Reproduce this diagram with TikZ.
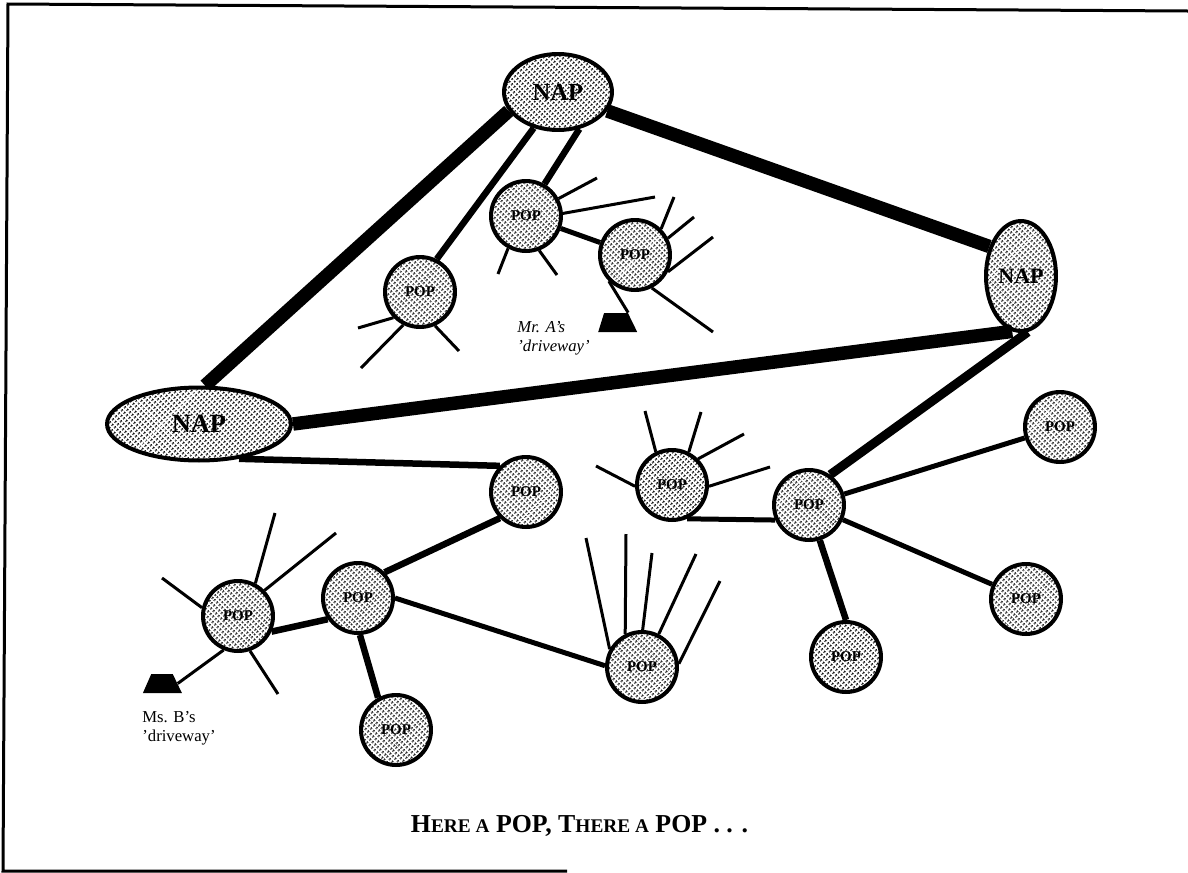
\documentclass[tikz,border=0pt]{standalone}
\usepackage{fontspec}
\setmainfont{Liberation Serif}
\usetikzlibrary{shapes.geometric}
\usetikzlibrary{patterns.meta}
\newcommand{\smallcap}[1]{{\fontsize{11}{12}\selectfont #1}}

\begin{document}
\begin{tikzpicture}[
            x=0.02cm,
            y=-0.02cm,
            nap/.style={
                ellipse,
                draw=black,
                line width=0.08cm,
                fill=white,
                pattern={Dots[radius=0.028cm, distance=0.072cm, angle=45]},
                inner sep=0pt,
                font=\bfseries
            },
            pop/.style={
                circle,
                draw=black,
                line width=0.08cm,
                fill=white,
                pattern={Dots[radius=0.028cm, distance=0.072cm, angle=45]},
                inner sep=0pt,
                minimum size=1.4cm,
                font=\fontsize{8.5}{9}\selectfont\bfseries
            },
            drive/.style={
                trapezium,
                fill=black,
                inner sep=0pt,
                trapezium stretches=true,
                minimum width=0.78cm,
                minimum height=0.38cm,
                font=\tiny
            },
            backbone/.style={line width=0.27cm},
            trunk/.style={line width=0.13cm},
            link/.style={line width=0.1cm},
            stub/.style={line width=0.06cm}
        ]
        \useasboundingbox (0,0) rectangle (1188,873);
        \draw[line width=0.06cm] (1188,11) -- (8,4) -- (3,871) -- (567,871);

        % exchange points
        \node[nap, minimum width=2.16cm, minimum height=1.52cm, font=\fontsize{14}{14}\selectfont\bfseries] (naptop) at (558,92) {NAP};
        \node[nap, minimum width=1.4cm, minimum height=2.2cm, font=\fontsize{12.5}{13}\selectfont\bfseries] (napright) at (1021,276) {NAP};
        \node[nap, minimum width=3.68cm, minimum height=1.46cm, font=\fontsize{15}{15}\selectfont\bfseries] (napleft) at (199,424) {NAP};

        % pops
        \node[pop] (popa) at (420,292) {POP};
        \node[pop] (popb) at (526,216) {POP};
        \node[pop] (popc) at (635,255) {POP};
        \node[pop] (popd) at (526,492) {POP};
        \node[pop] (pope) at (672,485) {POP};
        \node[pop] (popf) at (809,505) {POP};
        \node[pop] (popg) at (1060,427) {POP};
        \node[pop] (poph) at (1026,599) {POP};
        \node[pop] (popi) at (846,657) {POP};
        \node[pop] (popj) at (642,667) {POP};
        \node[pop] (popk) at (358,598) {POP};
        \node[pop] (popl) at (238,616) {POP};
        \node[pop] (popm) at (396,730) {POP};

        % driveways
        \node[drive, trapezium left angle=75, trapezium right angle=67] (drivea) at (616,322.5) {\phantom{x}};
        \node[drive, trapezium left angle=67, trapezium right angle=65] (driveb) at (162,683.5) {\phantom{x}};
        \node[anchor=west, align=left, inner sep=0pt, font=\fontsize{9.5}{10.8}\selectfont\itshape] (labela) at (517,338) {Mr. A's\\'driveway'};
        \node[anchor=west, align=left, inner sep=0pt, font=\fontsize{9.5}{10.8}\selectfont] (labelb) at (142,728) {Ms. B's\\'driveway'};

        % backbone
        \draw[backbone] (naptop.201) -- (napleft.81);
        \draw[backbone] (naptop.-21) -- (napright.137);
        \draw[backbone] (napleft.east) -- (napright.261);

        % trunks and links
        \draw[trunk] (naptop.-124) -- (popa.63);
        \draw[trunk] (naptop.-60) -- (popb.60);
        \draw[trunk] (napleft.-41) -- (popd.135);
        \draw[trunk, line width=0.18cm] (napright.-83) -- (popf.55);
        \draw[trunk] (popd.225) -- (popk.44);
        \draw[trunk] (popk.215) -- (popl.-25);
        \draw[trunk] (popk.-87) -- (popm.119);
        \draw[trunk] (popf.-73) -- (popi.90);
        \draw[link] (popf) -- (popg);
        \draw[link] (popf) -- (poph);
        \draw[link] (popk.0) -- (popj.178);
        \draw[link] (popb) -- (popc);
        \draw[link] (pope.-66) -- (popf.204);

        % subscriber lines
        \coordinate (enda) at (358,328);
        \coordinate (endb) at (361,368);
        \coordinate (endc) at (459,351);
        \draw[stub] (popa.224) -- (enda);
        \draw[stub] (popa.243) -- (endb);
        \draw[stub] (popa.-66) -- (endc);

        \coordinate (endd) at (597,178);
        \coordinate (ende) at (655,197);
        \coordinate (endf) at (498,274);
        \coordinate (endg) at (557,275);
        \draw[stub] (popb) -- (endd);
        \draw[stub] (popb.4) -- (ende);
        \draw[stub] (popb.-119) -- (endf);
        \draw[stub] (popb.-69) -- (endg);

        \coordinate (endh) at (674,197);
        \coordinate (endi) at (694,217);
        \coordinate (endj) at (713,237);
        \coordinate (endk) at (713,332);
        \draw[stub] (popc.45) -- (endh);
        \draw[stub] (popc.27) -- (endi);
        \draw[stub] (popc.-27) -- (endj);
        \draw[stub] (popc.-63) -- (endk);
        \draw[stub] (popc.225) -- (drivea.top right corner);

        \coordinate (endl) at (645,411);
        \coordinate (endm) at (701,412);
        \coordinate (endn) at (744,434);
        \coordinate (endo) at (770,467);
        \coordinate (endp) at (596,466);
        \draw[stub] (pope.116) -- (endl);
        \draw[stub] (pope.63) -- (endm);
        \draw[stub] (pope.45) -- (endn);
        \draw[stub] (pope.-2) -- (endo);
        \draw[stub] (pope.182) -- (endp);

        \coordinate (endq) at (586,538);
        \coordinate (endr) at (626,534);
        \coordinate (ends) at (652,553);
        \coordinate (endt) at (696,554);
        \coordinate (endu) at (720,581);
        \draw[stub] (popj.151) -- (endq);
        \draw[stub] (popj.117) -- (endr);
        \draw[stub] (popj.89) -- (ends);
        \draw[stub] (popj.63) -- (endt);
        \draw[stub] (popj.5) -- (endu);

        \coordinate (endv) at (162,578);
        \coordinate (endw) at (275,513);
        \coordinate (endx) at (336,533);
        \coordinate (endy) at (278,694);
        \draw[stub] (popl.167) -- (endv);
        \draw[stub] (popl.62) -- (endw);
        \draw[stub] (popl.44) -- (endx);
        \draw[stub] (popl.-71) -- (endy);
        \draw[stub] (popl.247) -- (driveb.east);

        \node[font=\fontsize{14.7}{16}\selectfont\bfseries] (caption) at (579.5,826) {H\smallcap{ERE A} POP, T\smallcap{HERE A} POP . . .};
        \end{tikzpicture}
\end{document}
